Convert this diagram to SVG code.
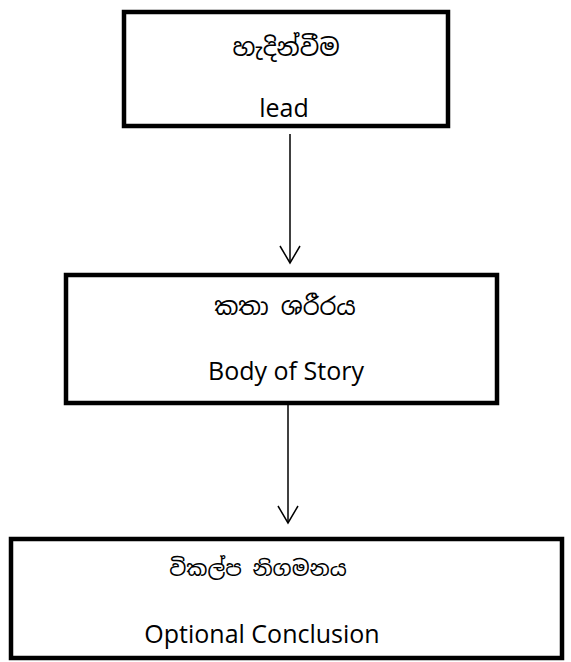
<svg xmlns="http://www.w3.org/2000/svg" width="571" height="662" viewBox="0 0 571 662">
<style>
.box{fill:#fff;stroke:#000;stroke-width:4.5}
.si{font-family:"Noto Sans Sinhala","Iskoola Pota","Noto Sans",sans-serif;font-size:24px;text-anchor:middle;fill:#000}
.en{font-family:"Open Sans",Lato,sans-serif;font-size:25px;text-anchor:middle;fill:#000}
.con{stroke:#000;stroke-width:1.5;fill:none}
</style>
<g id="connectors">
<line class="con" x1="290" y1="134" x2="290" y2="263"/>
<polyline class="con" points="280,246 290,263 300,246"/>
<line class="con" x1="288" y1="405" x2="288" y2="523"/>
<polyline class="con" points="278,506 288,523 298,506"/>
</g>
<g id="node-lead">
<rect class="box" x="124" y="12" width="324" height="114"/>
<text class="si" x="286" y="56">හැදින්වීම</text>
<text class="en" x="284" y="117">lead</text>
</g>
<g id="node-body">
<rect class="box" x="66" y="275" width="431" height="128"/>
<text class="si" x="285" y="315">කතා ශරීරය</text>
<text class="en" x="286" y="380">Body of Story</text>
</g>
<g id="node-conclusion">
<rect class="box" x="11" y="539" width="551" height="119"/>
<text class="si" x="258" y="576" style="font-size:21px">විකල්ප නිගමනය</text>
<text class="en" x="262" y="643">Optional Conclusion</text>
</g>
</svg>
